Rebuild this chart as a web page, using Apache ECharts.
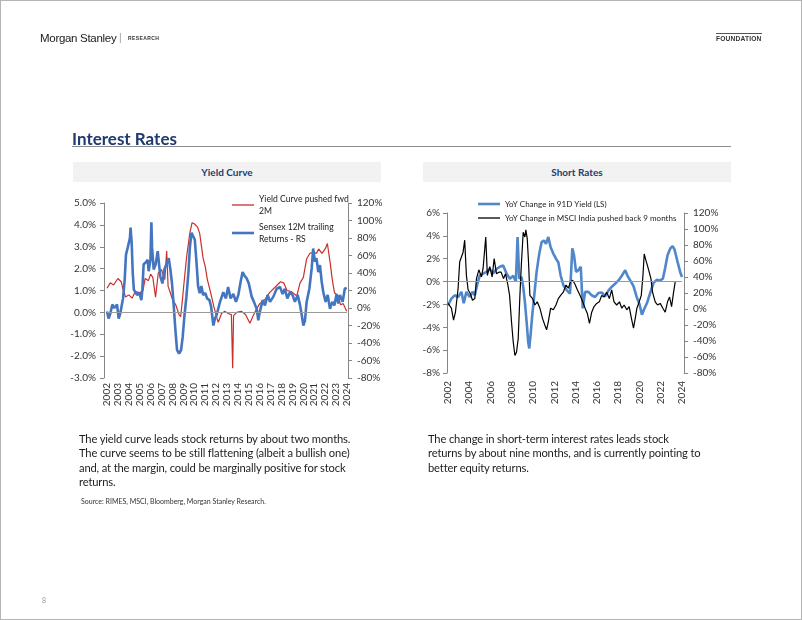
<!DOCTYPE html>
<html>
<head>
<meta charset="utf-8">
<script src="https://cdn.jsdelivr.net/npm/echarts@6/dist/echarts.min.js"></script>
<style>
  html, body { margin:0; padding:0; background:#fff; }
  #page { position:relative; width:800px; height:618px; border:1px solid #b4b4b4; overflow:hidden; font-family:Lato, "Open Sans", sans-serif; }
  #chart { position:absolute; left:-1px; top:-1px; width:802px; height:620px; }
  .abs { position:absolute; white-space:nowrap; }
  .body { font-size:11.2px; letter-spacing:-0.15px; line-height:14.4px; color:#1e1e1e; }
  .panel { position:absolute; height:20px; background:#f2f2f2; color:#1f3a6e; font-weight:bold; font-size:10px; text-align:center; line-height:20px; }
</style>
</head>
<body>
<div id="page">
  <div id="chart"></div>
  <div class="abs" style="left:39px;top:31px;font-family:'Liberation Sans',Arial,sans-serif;font-size:11.5px;color:#1a1a1a;letter-spacing:-0.3px;">Morgan Stanley</div>
  <div class="abs" style="left:118px;top:31px;font-family:'Liberation Sans',sans-serif;font-size:10px;color:#999;">|</div>
  <div class="abs" style="left:127px;top:34px;font-family:'Liberation Sans',sans-serif;font-size:5px;font-weight:bold;color:#333;letter-spacing:0.4px;">RESEARCH</div>
  <div class="abs" style="left:715px;top:32px;width:46px;border-top:1.5px solid #555;"></div>
  <div class="abs" style="left:715px;top:34px;font-family:'Liberation Sans',sans-serif;font-size:6.6px;font-weight:bold;color:#333;letter-spacing:0.2px;">FOUNDATION</div>

  <div class="abs" style="left:71px;top:127px;font-size:17px;font-weight:bold;color:#1f3a6e;">Interest Rates</div>
  <div class="abs" style="left:71px;top:145px;width:659px;border-top:1.5px solid #8c8c8c;"></div>

  <div class="panel" style="left:72px;top:161px;width:308px;">Yield Curve</div>
  <div class="panel" style="left:422px;top:161px;width:308px;">Short Rates</div>

  <div class="abs body" style="left:78px;top:431px;">The yield curve leads stock returns by about two months.<br>The curve seems to be still flattening (albeit a bullish one)<br>and, at the margin, could be marginally positive for stock<br>returns.</div>
  <div class="abs" style="left:80px;top:496px;font-size:7px;color:#333;">Source: RIMES, MSCI, Bloomberg, Morgan Stanley Research.</div>

  <div class="abs body" style="left:427px;top:431px;">The change in short-term interest rates leads stock<br>returns by about nine months, and is currently pointing to<br>better equity returns.</div>

  <div class="abs" style="left:41px;top:595px;font-size:7px;color:#9a9a9a;">8</div>
</div>
<script>
// ---------- Yield Curve panel ----------
const ycYears = [2002.0,2002.3,2002.6,2003.0,2003.3,2003.5,2003.7,2004.0,2004.3,2004.6,2005.0,2005.3,2005.5,2005.8,2006.0,2006.2,2006.45,2006.7,2007.0,2007.3,2007.47,2007.6,2007.8,2008.0,2008.3,2008.6,2008.75,2008.9,2009.05,2009.3,2009.6,2009.8,2010.0,2010.3,2010.5,2010.8,2011.0,2011.2,2011.5,2011.8,2012.1,2012.2,2012.5,2012.8,2013.1,2013.4,2013.52,2013.6,2013.9,2014.3,2014.7,2015.1,2015.4,2015.7,2016.0,2016.5,2016.9,2017.4,2017.9,2018.2,2018.5,2018.9,2019.4,2019.7,2020.0,2020.3,2020.6,2020.9,2021.2,2021.4,2021.7,2022.0,2022.2,2022.45,2022.65,2022.85,2023.2,2023.4,2023.65,2023.97];
const ycVals  = [1.1,1.35,1.25,1.55,1.4,1.0,0.7,0.8,0.65,0.95,0.9,1.0,1.55,1.45,1.75,1.6,0.7,1.8,1.95,1.5,2.8,1.2,0.9,0.6,0.35,-0.1,-0.2,0.5,1.3,2.55,3.65,4.1,4.05,3.9,3.6,2.5,2.1,1.5,0.9,0.25,-0.3,-0.45,-0.05,0.05,-0.05,-0.1,-2.55,-0.15,0.0,0.05,-0.1,-0.5,-0.15,0.15,0.4,0.6,0.9,1.15,1.4,1.35,1.0,0.95,0.75,1.35,1.6,2.45,2.7,2.75,2.7,2.9,2.7,2.9,3.15,2.3,1.5,0.9,0.75,0.35,0.4,0.05];

const sxYears = [2002.0,2002.15,2002.31,2002.49,2002.67,2002.92,2003.07,2003.22,2003.47,2003.62,2003.74,2003.9,2004.02,2004.1,2004.16,2004.26,2004.36,2004.46,2004.6,2004.75,2004.97,2005.15,2005.24,2005.36,2005.55,2005.73,2005.82,2005.98,2006.07,2006.13,2006.28,2006.46,2006.65,2006.77,2006.89,2007.08,2007.26,2007.44,2007.66,2007.81,2007.96,2008.12,2008.27,2008.42,2008.61,2008.79,2008.94,2009.09,2009.28,2009.46,2009.6,2009.75,2009.9,2010.05,2010.2,2010.35,2010.5,2010.65,2010.81,2011.02,2011.17,2011.39,2011.54,2011.75,2011.9,2012.05,2012.36,2012.66,2012.9,2013.1,2013.33,2013.58,2013.82,2014.04,2014.25,2014.43,2014.6,2014.8,2015.0,2015.26,2015.47,2015.72,2015.87,2016.0,2016.27,2016.48,2016.73,2016.94,2017.25,2017.55,2017.86,2018.1,2018.3,2018.53,2018.77,2019.0,2019.23,2019.48,2019.7,2019.85,2020.0,2020.15,2020.3,2020.55,2020.76,2020.9,2021.06,2021.2,2021.37,2021.52,2021.68,2021.83,2022.04,2022.23,2022.44,2022.65,2022.84,2023.05,2023.2,2023.35,2023.6,2023.8,2023.97];
const sxVals  = [-4,-12,-6,4,0,4,-12,-6,11,32,61,69,71,80,92,75,40,21,23,15,17,9,21,50,52,55,42,55,98,69,44,50,65,50,36,28,44,46,57,44,28,2,-25,-48,-52,-48,-33,-10,13,40,70,86,82,78,53,25,17,25,15,17,11,9,2,-20,-12,-8,7,18,11,24,11,16,7,15,30,41,37,34,28,13,7,-1,-14,-5,9,3,15,7,13,22,24,16,22,11,18,15,7,15,3,-8,-20,-14,7,22,45,68,53,57,41,49,30,18,7,15,-1,7,3,16,5,15,7,22,23];

// ---------- Short Rates panel ----------
const r91Years = [2002.0,2002.32,2002.63,2002.95,2003.26,2003.48,2003.73,2004.05,2004.3,2004.52,2004.74,2004.99,2005.3,2005.62,2005.93,2006.24,2006.56,2006.87,2007.19,2007.5,2007.82,2008.13,2008.38,2008.54,2008.7,2008.91,2009.07,2009.23,2009.39,2009.54,2009.64,2009.76,2009.92,2010.08,2010.33,2010.58,2010.8,2011.02,2011.21,2011.43,2011.65,2011.9,2012.15,2012.37,2012.59,2012.84,2013.15,2013.47,2013.69,2013.85,2014.04,2014.26,2014.48,2014.67,2014.89,2015.2,2015.51,2015.83,2016.14,2016.45,2016.77,2017.08,2017.4,2017.71,2018.03,2018.34,2018.66,2018.88,2019.13,2019.44,2019.76,2020.01,2020.23,2020.45,2020.7,2021.01,2021.33,2021.64,2021.95,2022.2,2022.42,2022.64,2022.9,2023.12,2023.3,2023.59,2023.84,2024.0];
const r91Vals  = [-2.07,-1.5,-1.2,-1.35,-0.9,-1.9,-0.9,-1.35,-0.9,-1.2,-0.3,0.55,0.7,0.85,1.1,0.7,1.1,1.3,1.4,0.7,0.25,0.5,0.0,3.9,0.25,0.4,-0.45,-1.8,-3.5,-5.3,-5.85,-4.7,-2.95,-1.5,0.85,2.45,3.45,3.6,3.3,3.9,3.0,2.45,2.0,1.7,0.55,-0.3,-0.75,-1.05,2.9,2.3,0.85,1.0,1.3,-2.35,-0.9,-0.9,-1.2,-1.35,-1.0,-0.95,-1.3,-0.8,-0.45,-0.2,0.1,0.5,1.0,0.5,0.1,-0.4,-1.4,-2.0,-2.9,-2.4,-1.9,-1.0,-0.1,0.15,0.1,0.25,1.2,2.3,2.9,3.1,2.8,1.7,0.8,0.4];

const msciYears = [2002.0,2002.32,2002.52,2002.7,2002.95,2003.1,2003.26,2003.42,2003.57,2003.73,2003.89,2004.1,2004.3,2004.52,2004.68,2004.9,2005.15,2005.3,2005.55,2005.7,2005.93,2006.15,2006.34,2006.56,2006.78,2007.0,2007.22,2007.41,2007.63,2007.79,2007.97,2008.13,2008.29,2008.44,2008.6,2008.76,2008.91,2009.07,2009.23,2009.32,2009.45,2009.57,2009.7,2009.95,2010.17,2010.39,2010.64,2010.89,2011.1,2011.27,2011.43,2011.65,2011.9,2012.15,2012.37,2012.59,2012.84,2013.09,2013.31,2013.53,2013.72,2013.94,2014.16,2014.42,2014.67,2014.89,2015.11,2015.3,2015.51,2015.73,2015.98,2016.23,2016.45,2016.67,2016.92,2017.17,2017.39,2017.61,2017.86,2018.12,2018.34,2018.56,2018.81,2019.03,2019.25,2019.44,2019.6,2019.76,2019.98,2020.17,2020.33,2020.45,2020.6,2020.76,2020.92,2021.08,2021.23,2021.48,2021.7,2021.95,2022.2,2022.42,2022.64,2022.83,2023.02,2023.21,2023.36];
const msciVals  = [7,1,-14,-4,26,59,65,71,86,42,24,19,11,13,38,49,40,51,90,42,53,40,63,44,46,46,38,44,30,17,-16,-41,-58,-54,-37,17,59,96,90,99,88,59,17,13,5,9,1,-12,-20,-26,-16,1,-1,5,13,17,21,30,26,34,36,31,24,17,9,1,-6,-18,-4,3,7,9,17,15,21,13,24,9,5,9,1,5,-1,3,-12,-24,-12,1,9,17,42,69,61,54,53,38,21,9,5,7,1,-4,9,15,3,21,34];

const pairs = (xs, ys) => xs.map((x, i) => [x, ys[i]]);

const FONT = 'Lato';
const AX = '#868686';
const LBL = '#333';
const RED = '#c8302c', BLUE1 = '#4475c0', BLUE2 = '#5087cb', BLACK = '#000';

function xAxisCfg(grid, interval) {
  return {
    type: 'value', gridIndex: grid, min: 2002, max: 2024, interval: interval,
    axisLine: { show: false }, axisTick: { show: false }, splitLine: { show: false },
    axisLabel: { rotate: 90, fontSize: 10, fontFamily: FONT, color: LBL, margin: grid === 0 ? 5 : 8, formatter: v => String(v) }
  };
}
function yAxisCfg(grid, pos, min, max, interval, fmt, offset, margin) {
  return {
    type: 'value', gridIndex: grid, position: pos, min: min, max: max, interval: interval, offset: offset,
    axisLine: { show: true, lineStyle: { color: AX, width: 1 } },
    axisTick: { show: true, length: 4, lineStyle: { color: AX } },
    splitLine: { show: false },
    axisLabel: { fontSize: 10, fontFamily: FONT, color: LBL, margin: margin, formatter: fmt }
  };
}
const zeroLine = {
  silent: true, symbol: ['none', 'none'], label: { show: false },
  lineStyle: { color: '#9a9a9a', width: 1, type: 'solid' },
  data: [{ yAxis: 0 }]
};
function legendItem(name, left, top, h, text, size, twoLine) {
  const ts = { fontSize: size, color: '#222', fontFamily: FONT };
  if (twoLine) { ts.lineHeight = 12; ts.padding = [12, 0, 0, 0]; }
  return {
    data: [{ name: name, icon: 'rect' }], left: left, top: top, padding: 0,
    itemWidth: 22, itemHeight: h, itemGap: 0, selectedMode: false,
    formatter: () => text, textStyle: ts
  };
}

const chart = echarts.init(document.getElementById('chart'), null, { renderer: 'canvas' });
chart.setOption({
  animation: false,
  textStyle: { fontFamily: FONT },
  grid: [
    { left: 107, top: 203, width: 240, height: 175 },
    { left: 448, top: 213, width: 234, height: 160 }
  ],
  xAxis: [ xAxisCfg(0, 1), xAxisCfg(1, 2) ],
  yAxis: [
    yAxisCfg(0, 'left', -3, 5, 1, v => v.toFixed(1) + '%', 3, 8),
    yAxisCfg(0, 'right', -80, 120, 20, v => v + '%', 1, 9),
    yAxisCfg(1, 'left', -8, 6, 2, v => v + '%', 1, 7),
    yAxisCfg(1, 'right', -80, 120, 20, v => v + '%', 2, 9)
  ],
  legend: [
    legendItem('Yield Curve pushed fwd 2M', 232, 187, 1.3, 'Yield Curve pushed fwd\n2M', 8.6, true),
    legendItem('Sensex 12M trailing Returns - RS', 232, 215, 2.6, 'Sensex 12M trailing\nReturns - RS', 8.6, true),
    legendItem('YoY Change in 91D Yield (LS)', 478, 200, 2.6, 'YoY Change in 91D Yield (LS)', 8, false),
    legendItem('YoY Change in MSCI India pushed back 9 months', 478, 214, 1.3, 'YoY Change in MSCI India pushed back 9 months', 8, false)
  ],
  series: [
    { name: 'Yield Curve pushed fwd 2M', type: 'line', xAxisIndex: 0, yAxisIndex: 0, symbol: 'none',
      lineStyle: { color: RED, width: 1.2 }, itemStyle: { color: RED },
      data: pairs(ycYears, ycVals), markLine: zeroLine },
    { name: 'Sensex 12M trailing Returns - RS', type: 'line', xAxisIndex: 0, yAxisIndex: 1, symbol: 'none',
      lineStyle: { color: BLUE1, width: 2.6 }, itemStyle: { color: BLUE1 },
      data: pairs(sxYears, sxVals) },
    { name: 'YoY Change in 91D Yield (LS)', type: 'line', xAxisIndex: 1, yAxisIndex: 2, symbol: 'none',
      lineStyle: { color: BLUE2, width: 2.6 }, itemStyle: { color: BLUE2 },
      data: pairs(r91Years, r91Vals), markLine: zeroLine },
    { name: 'YoY Change in MSCI India pushed back 9 months', type: 'line', xAxisIndex: 1, yAxisIndex: 3, symbol: 'none',
      lineStyle: { color: BLACK, width: 1.2 }, itemStyle: { color: BLACK },
      data: pairs(msciYears, msciVals) }
  ]
});
</script>
</body>
</html>
